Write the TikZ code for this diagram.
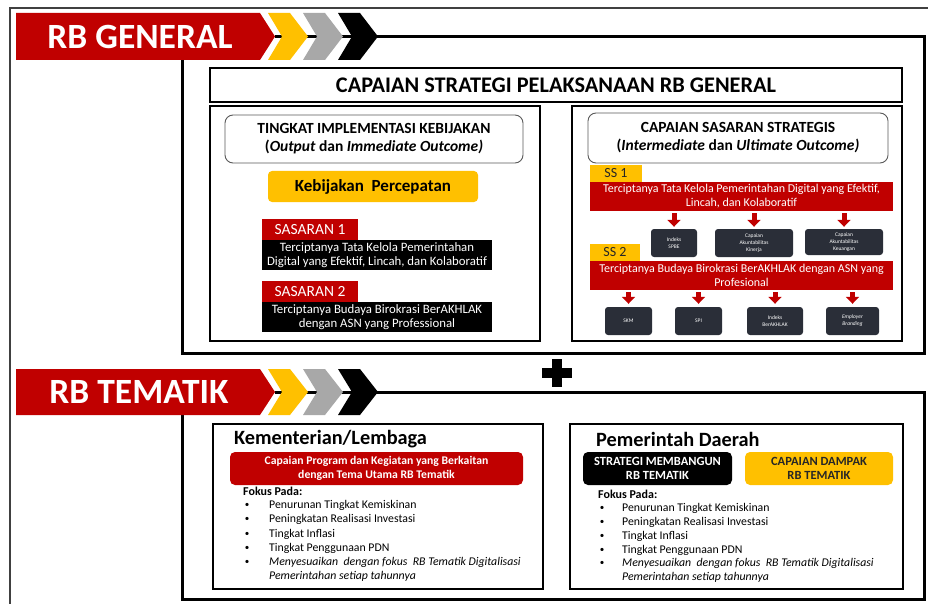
\documentclass[tikz,border=0pt]{standalone}
\usepackage{fontspec}
\setmainfont{Carlito}
\usetikzlibrary{arrows.meta}
\definecolor{rbred}{HTML}{C00000}
\definecolor{rbyel}{HTML}{FFC000}
\definecolor{rbgray}{HTML}{A8A8A8}
\definecolor{rbdark}{HTML}{2A2E38}
\begin{document}
\begin{tikzpicture}[x=1pt,y=-1pt,
  bigframe/.style={line width=3pt},
  panel/.style={draw, line width=2.6pt, inner sep=0},
  hdrbox/.style={draw=black!65, line width=0.9pt, rounded corners=8pt, fill=white, inner sep=0, align=center, font=\bfseries\fontsize{15.5}{18}\selectfont},
  yelbox/.style={fill=rbyel, rounded corners=4pt, inner sep=0, align=center},
  sastab/.style={fill=rbred, text=white, inner sep=0, font=\fontsize{15.5}{16}\selectfont},
  blkbox/.style={fill=black, text=white, inner sep=0, align=center, font=\fontsize{12.8}{13.5}\selectfont},
  sstab/.style={fill=rbyel, text=black!85, inner sep=0, font=\fontsize{14}{15}\selectfont},
  redbar/.style={fill=rbred, text=white, inner sep=0, align=center, font=\fontsize{12}{14}\selectfont},
  smallbox/.style={fill=rbdark, text=white, rounded corners=3pt, inner sep=0, align=center, font=\fontsize{5.5}{7}\selectfont},
  redarrow/.style={draw=rbred, line width=5pt, -{Triangle[width=13pt,length=7pt]}},
  banner/.style={fill=rbred},
  bannertext/.style={text=white, font=\bfseries\fontsize{35.5}{37}\selectfont},
  chev/.style={fill=#1},
  grptitle/.style={anchor=west, inner sep=0, font=\bfseries\fontsize{20.3}{22}\selectfont},
  fokus/.style={anchor=west, inner sep=0, font=\bfseries\fontsize{12}{14}\selectfont},
  item/.style={anchor=west, inner sep=0, font=\fontsize{11.8}{14}\selectfont},
  bul/.style={inner sep=0, font=\fontsize{9}{10}\selectfont}
]
\useasboundingbox (0,0) rectangle (928,604);
% outer thin frame
\draw[line width=1.5pt, black!75] (10,606) -- (10,8) -- (930,8);

% ===== RB GENERAL =====
\coordinate (g-tip) at (275,36.5);
\coordinate (g-tr) at (924,36.5);
\coordinate (g-br) at (924,353);
\coordinate (g-bl) at (182,353);
\coordinate (g-tl) at (182,60);
\draw[bigframe] (g-tip) -- (g-tr) -- (g-br) -- (g-bl) -- (g-tl);
\fill[banner] (16,13) -- (260,13) -- (275,36.5) -- (260,60) -- (16,60) -- cycle;
\node[bannertext] (gtitle) at (140,37) {RB GENERAL};
\foreach \x/\c in {268/rbyel,303/rbgray,338/black}
  \fill[chev=\c] (\x,13) -- (\x+22,13) -- (\x+40,36.5) -- (\x+22,60) -- (\x,60) -- (\x+14,36.5) -- cycle;

\node[panel, minimum width=692pt, minimum height=34pt, font=\bfseries\fontsize{22.3}{24}\selectfont] (capaian) at (556,85) {CAPAIAN STRATEGI PELAKSANAAN RB GENERAL};

\node[panel, minimum width=330pt, minimum height=235pt] (lpanel) at (375,223.5) {};
\node[panel, minimum width=330pt, minimum height=235pt] (rpanel) at (737,223.5) {};

% left panel
\node[hdrbox, minimum width=298pt, minimum height=48pt] (lhdr) at (374,139)
  {TINGKAT IMPLEMENTASI KEBIJAKAN\\(\textit{Output} dan \textit{Immediate Outcome)}};
\node[yelbox, minimum width=210pt, minimum height=31pt, font=\bfseries\fontsize{17}{19}\selectfont] (kebijakan) at (373,186.5) {Kebijakan\ \ Percepatan};
\node[sastab, minimum width=96pt, minimum height=21pt] (sas1) at (310,229.5) {SASARAN 1};
\node[blkbox, minimum width=230pt, minimum height=30pt] (sas1txt) at (377,255)
  {Terciptanya Tata Kelola Pemerintahan\\Digital yang Efektif, Lincah, dan Kolaboratif};
\node[sastab, minimum width=96pt, minimum height=21pt] (sas2) at (310,291.5) {SASARAN 2};
\node[blkbox, minimum width=230pt, minimum height=30pt] (sas2txt) at (377,317)
  {Terciptanya Budaya Birokrasi BerAKHLAK\\dengan ASN yang Professional};

% right panel
\node[hdrbox, minimum width=300pt, minimum height=50pt] (rhdr) at (738,138)
  {CAPAIAN SASARAN STRATEGIS\\(\textit{Intermediate} dan \textit{Ultimate Outcome)}};
\node[sstab, minimum width=52pt, minimum height=17pt] (ss1) at (616,173.5) {SS 1};
\node[redbar, minimum width=303pt, minimum height=29pt] (ss1bar) at (741.5,196.5)
  {Terciptanya Tata Kelola Pemerintahan Digital yang Efektif,\\Lincah, dan Kolaboratif};
\node[smallbox, minimum width=46pt, minimum height=28pt] (spbe) at (674,243) {Indeks\\SPBE};
\node[smallbox, minimum width=78pt, minimum height=28pt] (kinerja) at (754,243) {Capaian\\Akuntabilitas\\Kinerja};
\node[smallbox, minimum width=78pt, minimum height=26pt] (keuangan) at (844,242) {Capaian\\Akuntabilitas\\Keuangan};
\node[sstab, minimum width=50pt, minimum height=17pt] (ss2) at (615,252.5) {SS 2};
\node[redbar, minimum width=303pt, minimum height=29pt] (ss2bar) at (741.5,275.5)
  {Terciptanya Budaya Birokrasi BerAKHLAK dengan ASN yang\\Profesional};
\node[smallbox, minimum width=47pt, minimum height=28pt] (skm) at (628.5,321) {SKM};
\node[smallbox, minimum width=47pt, minimum height=28pt] (spi) at (698.5,321) {SPI};
\node[smallbox, minimum width=56pt, minimum height=28pt] (akhlak) at (775,321) {Indeks\\BerAKHLAK};
\node[smallbox, minimum width=53pt, minimum height=28pt] (employer) at (852.5,321) {\textit{Employer}\\\textit{Branding}};
\foreach \b in {spbe,kinerja,keuangan}
  \draw[redarrow] ([yshift=-2pt]ss1bar.south -| \b.north) -- ([yshift=2pt]\b.north);
\foreach \b in {skm,spi,akhlak,employer}
  \draw[redarrow] ([yshift=-2pt]ss2bar.south -| \b.north) -- ([yshift=3pt]\b.north);

% plus sign
\fill (542,368) rectangle (572,378);
\fill (552,359) rectangle (562,387);

% ===== RB TEMATIK =====
\coordinate (t-tip) at (275,392);
\coordinate (t-tr) at (924,392);
\coordinate (t-br) at (924,599);
\coordinate (t-bl) at (182,599);
\coordinate (t-tl) at (182,415);
\draw[bigframe] (t-tip) -- (t-tr) -- (t-br) -- (t-bl) -- (t-tl);
\fill[banner] (16,369) -- (260,369) -- (275,392) -- (260,415) -- (16,415) -- cycle;
\node[bannertext] (ttitle) at (139,392) {RB TEMATIK};
\foreach \x/\c in {268/rbyel,303/rbgray,338/black}
  \fill[chev=\c] (\x,369) -- (\x+22,369) -- (\x+40,392) -- (\x+22,415) -- (\x,415) -- (\x+14,392) -- cycle;

\node[panel, minimum width=330pt, minimum height=165pt] (klpanel) at (378,506.5) {};
\node[panel, minimum width=333pt, minimum height=165pt] (pdpanel) at (736.5,506.5) {};

% K/L
\node[grptitle] (kltitle) at (234,439) {Kementerian/Lembaga};
\node[fill=rbred, text=white, rounded corners=5pt, inner sep=0, align=center, minimum width=293pt, minimum height=33pt, font=\bfseries\fontsize{11.7}{14}\selectfont] (klred) at (376.5,468.5)
  {Capaian Program dan Kegiatan yang Berkaitan\\dengan Tema Utama RB Tematik};
\node[fokus] (klfokus) at (243,491) {Fokus Pada:};
\foreach \i/\y/\t in {1/505/Penurunan Tingkat Kemiskinan,2/519/Peningkatan Realisasi Investasi,3/534/Tingkat Inflasi,4/548/Tingkat Penggunaan PDN,5/562/\textit{Menyesuaikan\ \ dengan fokus\ \ RB Tematik Digitalisasi}}{
  \node[bul] (klb\i) at (247,\y) {•};
  \node[item] (kli\i) at (269,\y) {\t};
}
\node[item] (kli6) at (269,576) {\textit{Pemerintahan setiap tahunnya}};

% Pemda
\node[grptitle] (pdtitle) at (596,439) {Pemerintah Daerah};
\node[fill=black, text=white, rounded corners=5pt, inner sep=0, align=center, minimum width=149pt, minimum height=33pt, font=\bfseries\fontsize{12.5}{14}\selectfont] (pdblk) at (657.5,468.5) {STRATEGI MEMBANGUN\\RB TEMATIK};
\node[fill=rbyel, text=black!85, rounded corners=5pt, inner sep=0, align=center, minimum width=148pt, minimum height=33pt, font=\bfseries\fontsize{12.5}{14}\selectfont] (pdyel) at (819,468.5) {CAPAIAN DAMPAK\\RB TEMATIK};
\node[fokus] (pdfokus) at (598,494) {Fokus Pada:};
\foreach \i/\y/\t in {1/508/Penurunan Tingkat Kemiskinan,2/522/Peningkatan Realisasi Investasi,3/536/Tingkat Inflasi,4/550/Tingkat Penggunaan PDN,5/563/\textit{Menyesuaikan\ \ dengan fokus\ \ RB Tematik Digitalisasi}}{
  \node[bul] (pdb\i) at (602,\y) {•};
  \node[item] (pdi\i) at (622,\y) {\t};
}
\node[item] (pdi6) at (622,577) {\textit{Pemerintahan setiap tahunnya}};
\end{tikzpicture}
\end{document}
